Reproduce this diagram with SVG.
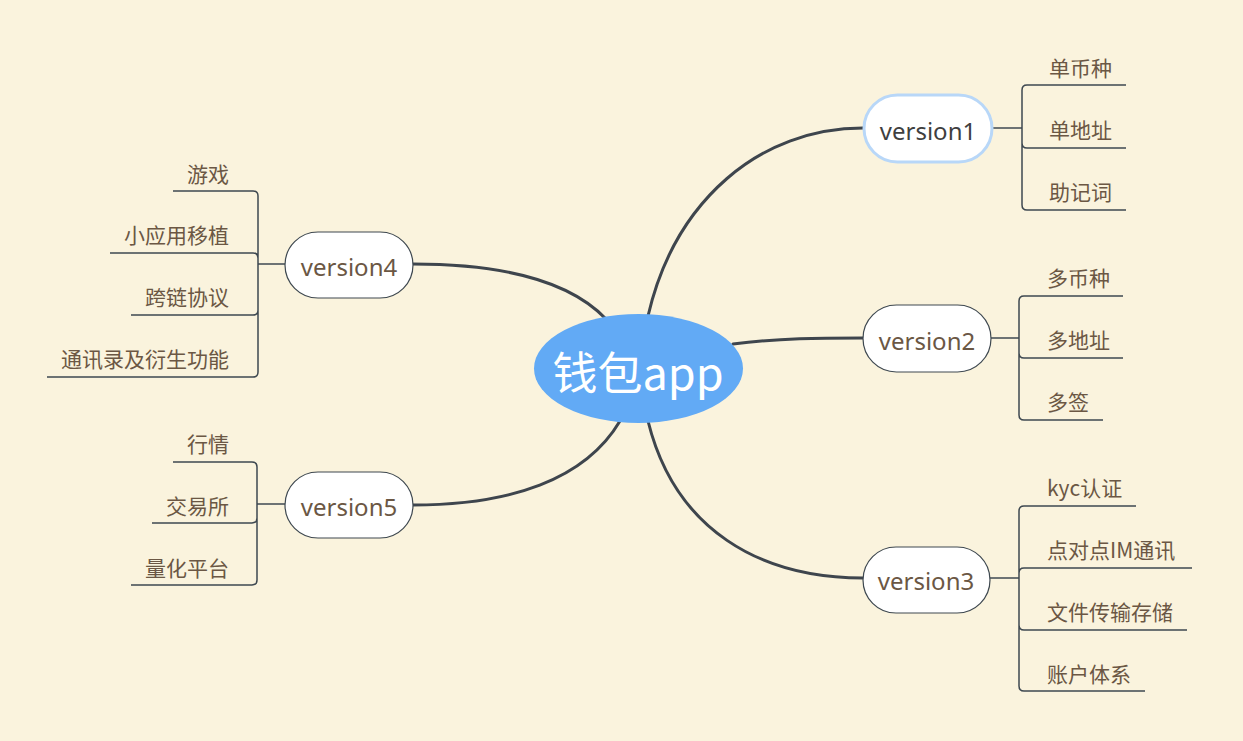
<svg xmlns="http://www.w3.org/2000/svg" width="1243" height="741" viewBox="0 0 1243 741">
<style>
.main{fill:none;stroke:#3E454D;stroke-width:3;stroke-linecap:round}
.br{fill:none;stroke:#3E4850;stroke-width:1.5}
.topic{fill:#fff;stroke:#3E4850;stroke-width:1.2}
.vt{font-family:"Noto Sans","Noto Sans CJK SC",sans-serif;font-size:24px;fill:#6B5744;text-anchor:middle}
.lb{font-family:"Noto Sans CJK SC","Noto Sans",sans-serif;font-size:21px;fill:#6B5744}
.r{text-anchor:end}
</style>
<rect width="1243" height="741" fill="#FAF3DD"/>
<g id="connectors">
<path class="main" d="M648,316 C675,200 760,128 863,128"/>
<path class="main" d="M733,344 C780,338 820,338 863,338"/>
<path class="main" d="M648,421 C675,530 760,578 863,578"/>
<path class="main" d="M606,319 C565,276 490,264 413,264"/>
<path class="main" d="M620,421 C585,480 510,505 413,505"/>
<path class="br" d="M993,128 H1022"/>
<path class="br" d="M1126,85 H1027 Q1022,85 1022,90 V205 Q1022,210 1027,210 H1126 M1022,143 Q1022,148 1027,148 H1126"/>
<path class="br" d="M991,338 H1019"/>
<path class="br" d="M1123,296 H1024 Q1019,296 1019,301 V415 Q1019,420 1024,420 H1103 M1019,353 Q1019,358 1024,358 H1123"/>
<path class="br" d="M990,578 H1019"/>
<path class="br" d="M1136,506 H1024 Q1019,506 1019,511 V686 Q1019,691 1024,691 H1145 M1019,573 Q1019,568 1024,568 H1192 M1019,625 Q1019,630 1024,630 H1187"/>
<path class="br" d="M285,264 H258"/>
<path class="br" d="M173,191 H253 Q258,191 258,196 V372 Q258,377 253,377 H47 M110,253 H253 Q258,253 258,258 M258,310 Q258,315 253,315 H131"/>
<path class="br" d="M285,504 H257"/>
<path class="br" d="M173,462 H252 Q257,462 257,467 V580 Q257,585 252,585 H131 M152,523 H252 Q257,523 257,518"/>
</g>
<g id="root">
<ellipse cx="638.5" cy="368.5" rx="104.5" ry="54.5" fill="#62AAF5"/>
<text x="638" y="390" font-family="Noto Sans CJK SC,Noto Sans,sans-serif" font-size="45" fill="#fff" text-anchor="middle">钱包app</text>
</g>
<g id="version1">
<rect x="864" y="95" width="128" height="67" rx="33.5" fill="#fff" stroke="#B8D7F8" stroke-width="3"/>
<text class="vt" x="928" y="140" style="fill:#3F3F3F">version1</text>
</g>
<g id="version2">
<rect class="topic" x="863" y="305" width="128" height="67" rx="33.5"/>
<text class="vt" x="927" y="350">version2</text>
</g>
<g id="version3">
<rect class="topic" x="863" y="547" width="127" height="66" rx="33"/>
<text class="vt" x="926" y="590">version3</text>
</g>
<g id="version4">
<rect class="topic" x="285" y="232" width="128" height="66" rx="33"/>
<text class="vt" x="349" y="276">version4</text>
</g>
<g id="version5">
<rect class="topic" x="285" y="472" width="128" height="66" rx="33"/>
<text class="vt" x="349" y="516">version5</text>
</g>
<g id="v1-items">
<text class="lb" x="1049" y="76">单币种</text>
<text class="lb" x="1049" y="138">单地址</text>
<text class="lb" x="1049" y="200">助记词</text>
</g>
<g id="v2-items">
<text class="lb" x="1047" y="286">多币种</text>
<text class="lb" x="1047" y="348">多地址</text>
<text class="lb" x="1047" y="410">多签</text>
</g>
<g id="v3-items">
<text class="lb" x="1047" y="496">kyc认证</text>
<text class="lb" x="1047" y="558">点对点IM通讯</text>
<text class="lb" x="1047" y="620">文件传输存储</text>
<text class="lb" x="1047" y="682">账户体系</text>
</g>
<g id="v4-items">
<text class="lb r" x="229" y="182">游戏</text>
<text class="lb r" x="229" y="243">小应用移植</text>
<text class="lb r" x="229" y="305">跨链协议</text>
<text class="lb r" x="229" y="367">通讯录及衍生功能</text>
</g>
<g id="v5-items">
<text class="lb r" x="229" y="452">行情</text>
<text class="lb r" x="229" y="514">交易所</text>
<text class="lb r" x="229" y="576">量化平台</text>
</g>
</svg>
